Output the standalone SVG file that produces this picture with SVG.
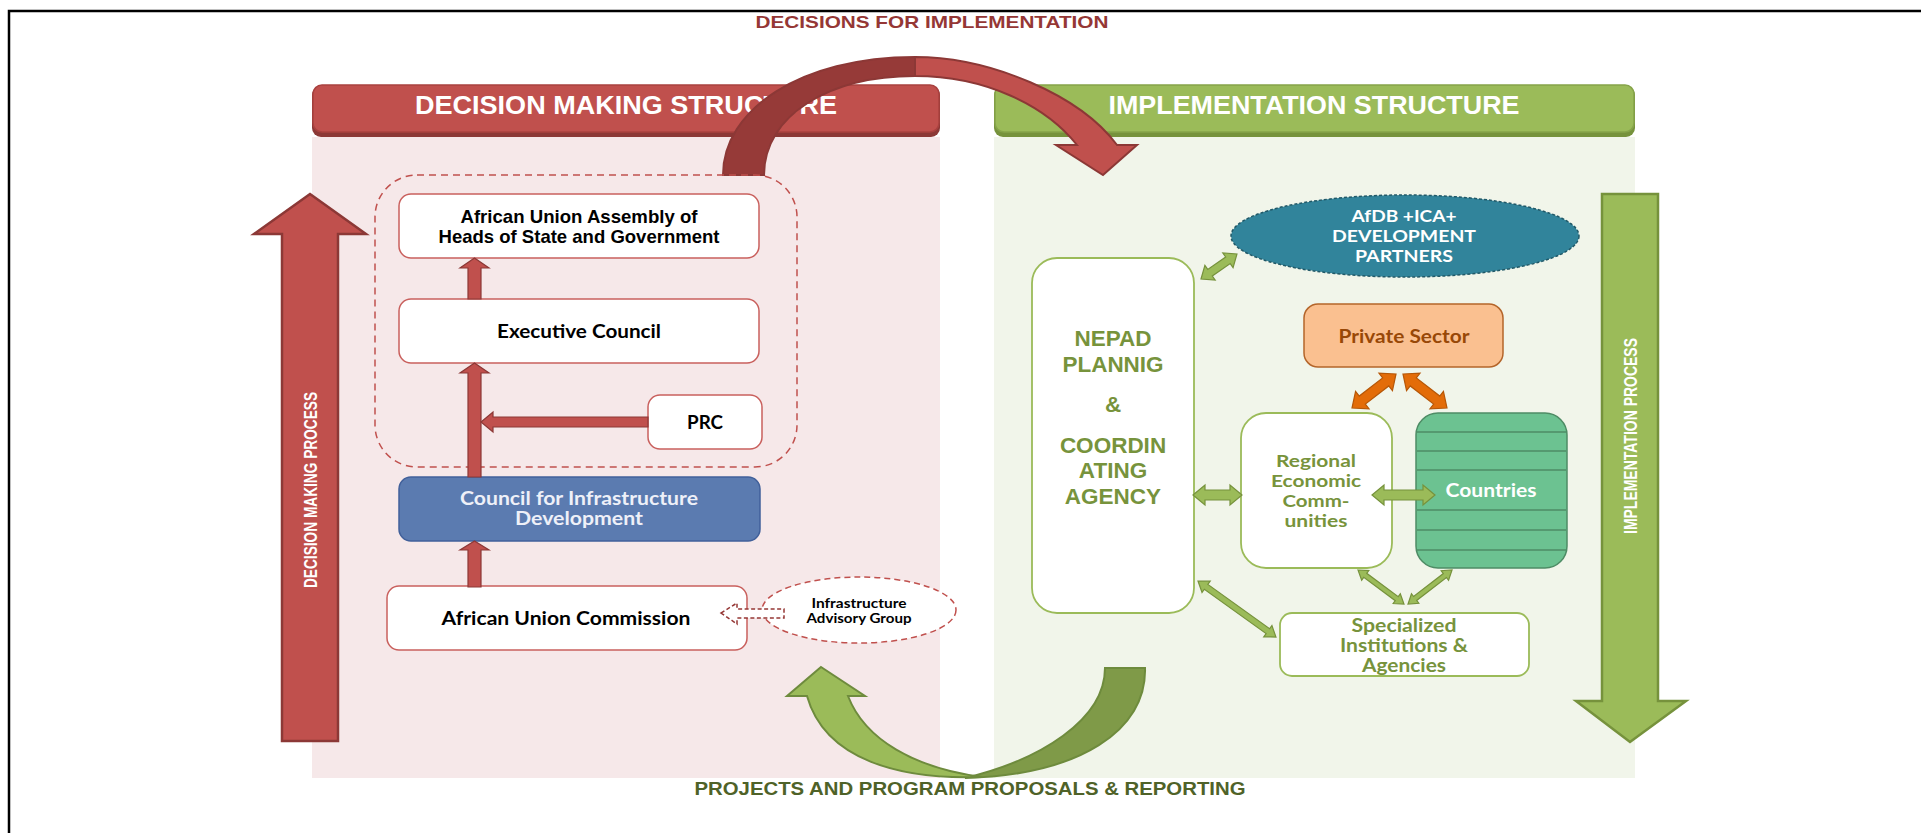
<svg xmlns="http://www.w3.org/2000/svg" width="1921" height="833" viewBox="0 0 1921 833">
  <style>
    .arial { font-family: "Liberation Sans", Arial, sans-serif; font-weight: bold; }
    .narrow { font-family: "Liberation Sans Narrow", "Liberation Sans", Arial, sans-serif; font-weight: bold; }
    .cal { font-family: Lato, "Open Sans", "Liberation Sans", sans-serif; font-weight: bold; }
    .mid { text-anchor: middle; }
    .redbox { fill: #ffffff; stroke: #C9605D; stroke-width: 1.5; }
    .grnbox { fill: #ffffff; stroke: #9BBB59; stroke-width: 1.8; }
    .redarrow { fill: #C0504D; stroke: #8C3836; stroke-width: 1.2; stroke-linejoin: miter; }
    .grnarrow { fill: #9BBB59; stroke: #76923C; stroke-width: 1.2; }
    .orgarrow { fill: #E36C09; stroke: #B65708; stroke-width: 1.2; }
    .olive { fill: #77933C; }
  </style>

  <!-- outer frame -->
  <path d="M9,833 L9,11 L1921,11" fill="none" stroke="#000" stroke-width="2.5"/>

  <!-- panel backgrounds -->
  <rect x="312" y="137" width="628" height="641" fill="#F6E8E9"/>
  <rect x="994" y="137" width="641" height="641" fill="#F1F5EA"/>

  <!-- panel headers -->
  <g id="header-decision">
    <rect x="312" y="86" width="628" height="51" rx="9" fill="#8C3836"/>
    <rect x="313" y="85" width="626" height="47" rx="9" fill="#C0504D" stroke="#A9413F" stroke-width="1.5"/>
    <text class="narrow mid" x="626" y="114" font-size="25" fill="#fff" textLength="422" lengthAdjust="spacingAndGlyphs">DECISION MAKING STRUCTURE</text>
  </g>
  <g id="header-implementation">
    <rect x="994" y="86" width="641" height="51" rx="9" fill="#76923C"/>
    <rect x="995" y="85" width="639" height="47" rx="9" fill="#9BBB59" stroke="#86A44A" stroke-width="1.5"/>
    <text class="narrow mid" x="1314" y="114" font-size="25" fill="#fff" textLength="411" lengthAdjust="spacingAndGlyphs">IMPLEMENTATION STRUCTURE</text>
  </g>

  <!-- flow labels -->
  <text class="narrow mid" x="932" y="28" font-size="17" fill="#953735" textLength="353" lengthAdjust="spacingAndGlyphs">DECISIONS FOR IMPLEMENTATION</text>
  <text class="narrow mid" x="970" y="795" font-size="19" fill="#4F6228" textLength="551" lengthAdjust="spacingAndGlyphs">PROJECTS AND PROGRAM PROPOSALS &amp; REPORTING</text>

  <!-- process arrows -->
  <g id="decision-process">
    <polygon points="310,194 366,234 338,234 338,741 282,741 282,234 254,234" fill="#C0504D" stroke="#8C3836" stroke-width="2.5"/>
    <text class="narrow mid" transform="translate(317,490) rotate(-90)" font-size="18" fill="#fff" textLength="196" lengthAdjust="spacingAndGlyphs">DECISION MAKING PROCESS</text>
  </g>
  <g id="implementation-process">
    <polygon points="1602,194 1658,194 1658,701 1686,701 1630,742 1576,701 1602,701" fill="#9BBB59" stroke="#76923C" stroke-width="2.5"/>
    <text class="narrow mid" transform="translate(1637,436) rotate(-90)" font-size="18" fill="#fff" textLength="196" lengthAdjust="spacingAndGlyphs">IMPLEMENTATION PROCESS</text>
  </g>

  <!-- curved arrow: decisions passed to implementation -->
  <g id="decisions-arc">
    <path d="M723,175 C723,110 800,57 915,57 L915,76 C830,76 764,115 764,175 Z" fill="#963A38" stroke="#8C3836" stroke-width="2"/>
    <path d="M915,57 C990,57 1080,95 1117,145 L1137,145 L1103,175 L1056,145 L1077,145 C1045,105 985,76 915,76 Z" fill="#C0504D" stroke="#8C3836" stroke-width="2"/>
  </g>

  <!-- curved arrow: proposals and reporting back to decision making -->
  <g id="reporting-arc">
    <path d="M1105,668 L1145,668 C1147,730 1080,775 965,778 C1040,760 1105,720 1105,668 Z" fill="#7F9A48" stroke="#6E8B3D" stroke-width="2"/>
    <path d="M821,667 L865,696 L848,696 C865,740 915,768 982,777 C900,780 825,760 807,696 L787,696 Z" fill="#9BBB59" stroke="#6E8B3D" stroke-width="2"/>
  </g>

  <!-- decision making structure -->
  <g id="policy-organs">
    <rect x="375" y="175" width="422" height="292" rx="42" fill="none" stroke="#C0504D" stroke-width="1.5" stroke-dasharray="7 5"/>
  </g>
  <g id="au-assembly">
    <rect class="redbox" x="399" y="194" width="360" height="64" rx="12"/>
    <text class="arial mid" x="579" y="223" font-size="18.5" fill="#000" textLength="237" lengthAdjust="spacingAndGlyphs">African Union Assembly of</text>
    <text class="arial mid" x="579" y="243" font-size="18.5" fill="#000" textLength="281" lengthAdjust="spacingAndGlyphs">Heads of State and Government</text>
  </g>
  <g id="executive-council">
    <rect class="redbox" x="399" y="299" width="360" height="64" rx="12"/>
    <text class="cal mid" x="579" y="338" font-size="18" fill="#000" textLength="164" lengthAdjust="spacingAndGlyphs">Executive Council</text>
  </g>
  <g id="prc">
    <rect class="redbox" x="648" y="395" width="114" height="54" rx="12"/>
    <text class="cal mid" x="705" y="429" font-size="18" fill="#000" textLength="36" lengthAdjust="spacingAndGlyphs">PRC</text>
  </g>
  <g id="cid">
    <rect x="399" y="477" width="361" height="64" rx="12" fill="#5B7BB0" stroke="#41609A" stroke-width="1.5"/>
    <text class="cal mid" x="579" y="505" font-size="18" fill="#EEF0F8" textLength="238" lengthAdjust="spacingAndGlyphs">Council for Infrastructure</text>
    <text class="cal mid" x="579" y="525" font-size="18" fill="#EEF0F8" textLength="128" lengthAdjust="spacingAndGlyphs">Development</text>
  </g>
  <g id="au-commission">
    <rect class="redbox" x="387" y="586" width="360" height="64" rx="12"/>
    <text class="cal mid" x="566" y="625" font-size="19" fill="#000" textLength="249" lengthAdjust="spacingAndGlyphs">African Union Commission</text>
  </g>
  <g id="advisory-group">
    <ellipse cx="859" cy="610" rx="97" ry="33" fill="#ffffff" stroke="#C0504D" stroke-width="1.5" stroke-dasharray="6 4"/>
    <text class="cal mid" x="859" y="608" font-size="13" fill="#000" textLength="95" lengthAdjust="spacingAndGlyphs">Infrastructure</text>
    <text class="cal mid" x="859" y="623" font-size="13" fill="#000" textLength="105" lengthAdjust="spacingAndGlyphs">Advisory Group</text>
  </g>

  <!-- implementation structure -->
  <g id="afdb-partners">
    <ellipse cx="1405" cy="236" rx="174" ry="41" fill="#31849B" stroke="#215968" stroke-width="1.5" stroke-dasharray="3 2"/>
    <text class="cal mid" x="1404" y="222" font-size="17" fill="#fff" textLength="105" lengthAdjust="spacingAndGlyphs">AfDB +ICA+</text>
    <text class="cal mid" x="1404" y="242" font-size="17" fill="#fff" textLength="144" lengthAdjust="spacingAndGlyphs">DEVELOPMENT</text>
    <text class="cal mid" x="1404" y="262" font-size="17" fill="#fff" textLength="98" lengthAdjust="spacingAndGlyphs">PARTNERS</text>
  </g>
  <g id="nepad">
    <rect class="grnbox" x="1032" y="258" width="162" height="355" rx="25"/>
    <g class="arial olive" font-size="22.5" text-anchor="middle">
      <text x="1113" y="346">NEPAD</text>
      <text x="1113" y="372">PLANNIG</text>
      <text x="1113" y="412">&amp;</text>
      <text x="1113" y="453">COORDIN</text>
      <text x="1113" y="478">ATING</text>
      <text x="1113" y="504">AGENCY</text>
    </g>
  </g>
  <g id="private-sector">
    <rect x="1304" y="304" width="199" height="63" rx="14" fill="#FAC090" stroke="#B4652A" stroke-width="1.5"/>
    <text class="cal mid" x="1404" y="343" font-size="18" fill="#984807" textLength="131" lengthAdjust="spacingAndGlyphs">Private Sector</text>
  </g>
  <g id="recs">
    <rect class="grnbox" x="1241" y="413" width="151" height="155" rx="25"/>
    <g class="cal olive" font-size="17" text-anchor="middle">
      <text x="1316" y="467" textLength="80" lengthAdjust="spacingAndGlyphs">Regional</text>
      <text x="1316" y="487" textLength="90" lengthAdjust="spacingAndGlyphs">Economic</text>
      <text x="1316" y="507" textLength="67" lengthAdjust="spacingAndGlyphs">Comm-</text>
      <text x="1316" y="527" textLength="63" lengthAdjust="spacingAndGlyphs">unities</text>
    </g>
  </g>
  <g id="countries">
    <rect x="1416" y="413" width="151" height="155" rx="22" fill="#6CC291" stroke="#4E8C65" stroke-width="1.5"/>
    <path d="M1417,432 H1566 M1417,451 H1566 M1417,470 H1566 M1417,510 H1566 M1417,530 H1566 M1417,550 H1566" stroke="#4E8C65" stroke-width="1.3"/>
    <text class="cal mid" x="1491" y="497" font-size="18" fill="#fff" textLength="91" lengthAdjust="spacingAndGlyphs">Countries</text>
  </g>
  <g id="specialized">
    <rect class="grnbox" x="1280" y="613" width="249" height="63" rx="12"/>
    <g class="cal olive" font-size="18" text-anchor="middle">
      <text x="1404" y="632" textLength="105" lengthAdjust="spacingAndGlyphs">Specialized</text>
      <text x="1404" y="652" textLength="128" lengthAdjust="spacingAndGlyphs">Institutions &amp;</text>
      <text x="1404" y="672" textLength="84" lengthAdjust="spacingAndGlyphs">Agencies</text>
    </g>
  </g>

  <!-- connectors -->
  <g id="connectors">
    <!-- upward flow in decision making -->
    <polygon class="redarrow" points="468,587 468,550 460,550 474.5,541 489,550 481,550 481,587"/>
    <polygon class="redarrow" points="468,477 468,373 460,373 474.5,363 489,373 481,373 481,477"/>
    <polygon class="redarrow" points="468,299 468,268 460,268 474.5,258 489,268 481,268 481,299"/>
    <polygon class="redarrow" points="648,417 493,417 493,412 481,422 493,432 493,427 648,427"/>
    <!-- advisory group feeds the commission -->
    <polygon points="721,613 737,603 737,609 784,609 784,618 737,618 737,624" fill="#ffffff" stroke="#953735" stroke-width="1.5" stroke-dasharray="4 2.5"/>

    <!-- two-way links in implementation -->
    <g class="grnarrow">
      <polygon transform="translate(1201,279) rotate(-34.8)" points="0,0 11,-9 11,-4 32.8,-4 32.8,-9 43.8,0 32.8,9 32.8,4 11,4 11,9"/>
      <polygon transform="translate(1193,495)" points="0,0 12,-10 12,-5 37,-5 37,-10 49,0 37,10 37,5 12,5 12,10"/>
      <polygon transform="translate(1372,495)" points="0,0 12,-10 12,-5 51,-5 51,-10 63,0 51,10 51,5 12,5 12,10"/>
      <polygon transform="translate(1198,581) rotate(35.7)" points="0,0 10,-7 10,-3 86,-3 86,-7 96,0 86,7 86,3 10,3 10,7"/>
      <polygon transform="translate(1358,570) rotate(36.5)" points="0,0 9,-6 9,-2.5 48.2,-2.5 48.2,-6 57.2,0 48.2,6 48.2,2.5 9,2.5 9,6"/>
      <polygon transform="translate(1452,570) rotate(142.3)" points="0,0 9,-6 9,-2.5 46.6,-2.5 46.6,-6 55.6,0 46.6,6 46.6,2.5 9,2.5 9,6"/>
    </g>
    <g class="orgarrow">
      <polygon transform="translate(1396,374) rotate(142.3)" points="0,0 13,-11 13,-5 42.6,-5 42.6,-11 55.6,0 42.6,11 42.6,5 13,5 13,11"/>
      <polygon transform="translate(1403,374) rotate(37.7)" points="0,0 13,-11 13,-5 42.6,-5 42.6,-11 55.6,0 42.6,11 42.6,5 13,5 13,11"/>
    </g>
  </g>
</svg>
